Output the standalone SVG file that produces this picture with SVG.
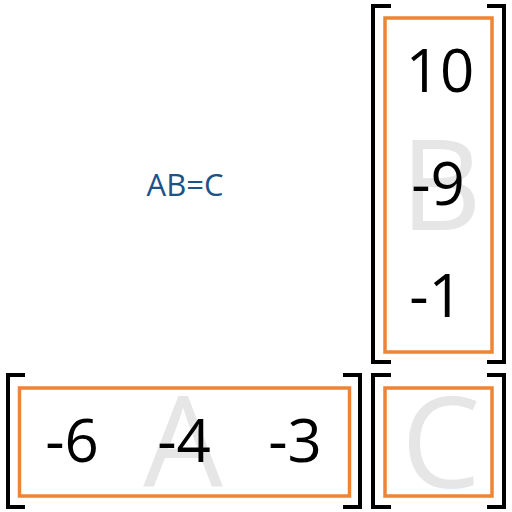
<svg xmlns="http://www.w3.org/2000/svg" width="512" height="512" viewBox="0 0 512 512">
<style>
.br{fill:none;stroke:#000;stroke-width:4}
.box{fill:none;stroke:#ef8434;stroke-width:3.5}
.num{font-family:"Open Sans",sans-serif;font-size:60px;fill:#000;text-anchor:middle}
.big{font-family:"Open Sans",sans-serif;font-size:126px;fill:#e6e6e6;text-anchor:middle}
.eq{font-family:"Open Sans",sans-serif;font-size:31px;fill:#1b5387;text-anchor:middle}
</style>
<rect width="512" height="512" fill="#fff"/>
<g id="label"><text class="eq" x="185" y="196">AB=C</text></g>
<g id="B">
<text class="big" x="441" y="230">B</text>
<path class="br" d="M391,6 H373 V362 H391 M487,6 H504 V362 H487"/>
<rect class="box" x="385" y="18" width="107" height="334"/>
<text class="num" x="440" y="92">10</text>
<text class="num" x="438" y="205">-9</text>
<text class="num" x="436" y="317">-1</text>
</g>
<g id="A">
<text class="big" x="183" y="487">A</text>
<path class="br" d="M25,375 H8 V507 H25 M343,375 H360 V507 H343"/>
<rect class="box" x="19.5" y="388" width="330" height="108"/>
<text class="num" x="72" y="462">-6</text>
<text class="num" x="184" y="462">-4</text>
<text class="num" x="295" y="462">-3</text>
</g>
<g id="C">
<text class="big" x="441" y="488">C</text>
<path class="br" d="M391,375 H373 V507 H391 M487,375 H504 V507 H487"/>
<rect class="box" x="385" y="388" width="107" height="108"/>
</g>
</svg>
